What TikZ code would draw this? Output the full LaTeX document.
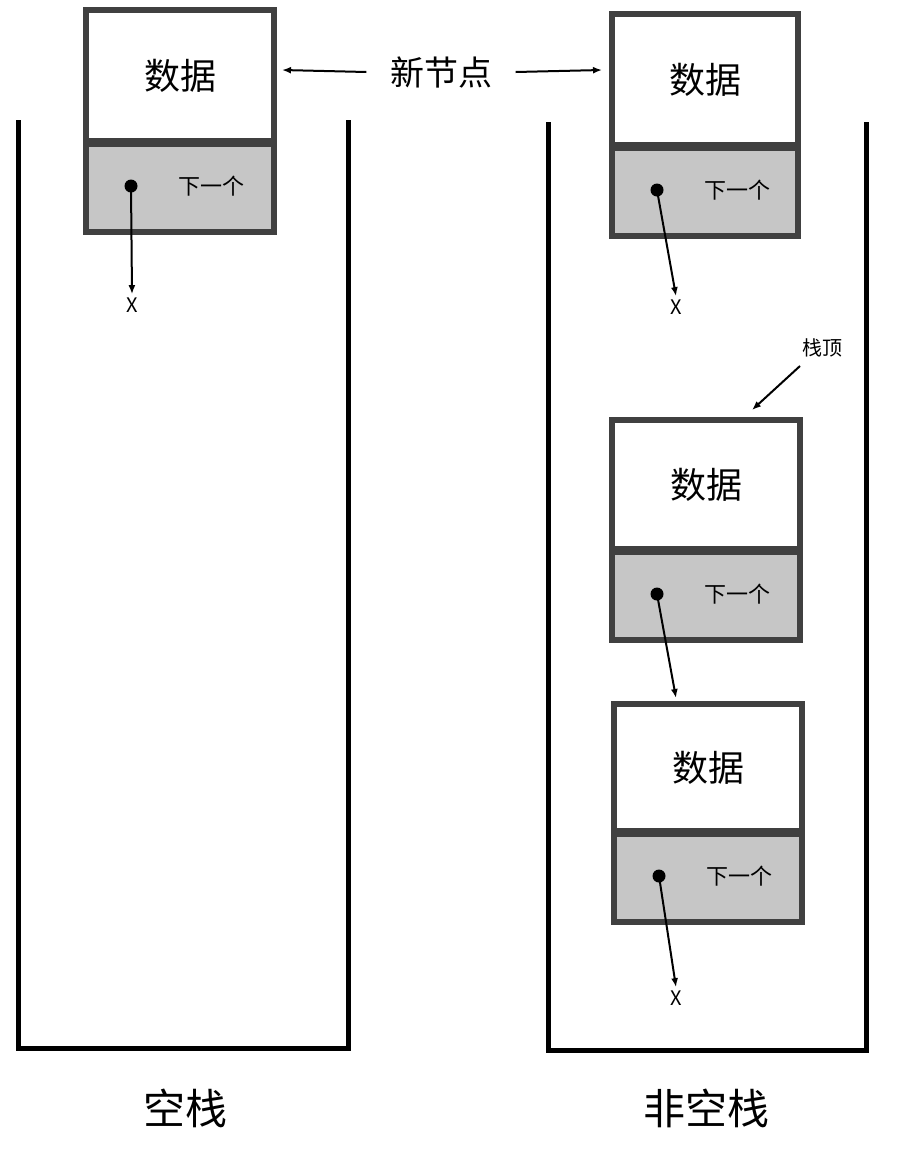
\documentclass[tikz,border=0pt]{standalone}
\usepackage{fontspec}
\setmainfont{Noto Sans CJK SC}
\usetikzlibrary{arrows.meta}
\begin{document}
\begin{tikzpicture}[x=1pt,y=-1pt,
 wall/.style={line width=5pt,black},
 bx/.style={draw=black!75,line width=6pt},
 ptr/.style={line width=2pt,-{Latex[length=9pt,width=7pt]}},
 dotc/.style={circle,fill=black,inner sep=0pt,minimum size=13pt}]
\useasboundingbox (0,0) rectangle (920,1152);
% containers
\draw[wall] (18,120) -- (18,1048) -- (348,1048) -- (348,120);
\draw[wall] (548,122) -- (548,1050) -- (866,1050) -- (866,122);
% node macro by hand
\newcommand{\stnode}[5]{% name, x1,y1,x2,y2 ; divider computed
 \fill[gray!45] (#2,#5-90) rectangle (#4,#5);
 \draw[bx] (#2,#3) rectangle (#4,#5);
 \draw[draw=black!75,line width=9pt] (#2,#5-90) -- (#4,#5-90);
 \node[font=\fontsize{36}{36}\selectfont] (#1d) at ({(#2+#4)/2},{(#3+#5-90)/2}) {数据};
 \node[font=\fontsize{22}{22}\selectfont] (#1n) at ({#2+125},{#5-46}) {下一个};
 \node[dotc] (#1p) at ({#2+45},{#5-46}) {};
}
\stnode{a}{86}{10}{274}{232}
\stnode{b}{612}{14}{798}{236}
\stnode{c}{612}{420}{800}{640}
\stnode{e}{614}{704}{802}{922}
\node[font=\fontsize{20}{20}\selectfont] (ax) at (132,305) {X};
\node[font=\fontsize{20}{20}\selectfont] (bx) at (676,307) {X};
\node[font=\fontsize{20}{20}\selectfont] (ex) at (676,998) {X};
\draw[ptr] (ap.center) -- (ax.north);
\draw[ptr] (bp.center) -- (bx.north);
\draw[ptr] (cp.center) -- (676,698);
\draw[ptr] (ep.center) -- (ex.north);
\node[font=\fontsize{34}{34}\selectfont] (new) at (441,72) {新节点};
\draw[ptr] (new.west) ++(-20,0) coordinate (l1) -- (282,70);
\draw[ptr] (new.east) ++(20,0) coordinate (r1) -- (602,70);
\node[font=\fontsize{20}{20}\selectfont] (top) at (822,348) {栈顶};
\draw[ptr] (800,366) -- (752,410);
\node[font=\fontsize{42}{42}\selectfont] (l) at (185,1108) {空栈};
\node[font=\fontsize{42}{42}\selectfont] (r) at (706,1108) {非空栈};
\end{tikzpicture}
\end{document}
